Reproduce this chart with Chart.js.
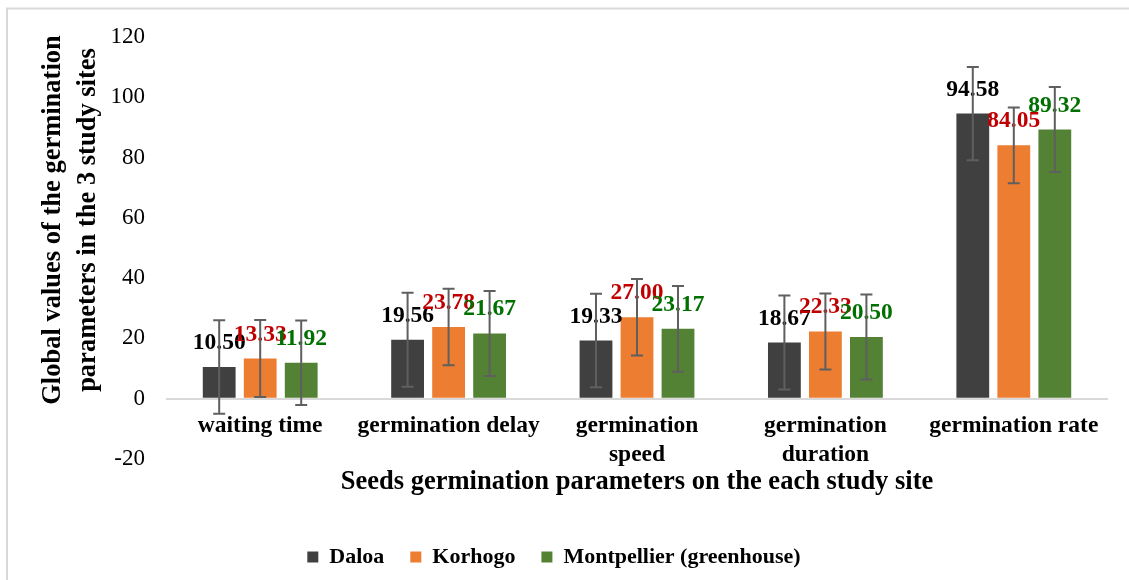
<!DOCTYPE html>
<html lang="en">
<head>
    <meta charset="UTF-8">
    <title>Seeds germination parameters</title>
    <style>
        body { margin: 0; background: #fff; }
        canvas { display: block; }
    </style>
</head>
<body>
    <canvas id="chart" width="1129" height="580"></canvas>

    <script src="https://cdn.jsdelivr.net/npm/chart.js"></script>
    <script>
    // categories and values
    const categories = ['waiting time', 'germination delay', ['germination', 'speed'], ['germination', 'duration'], 'germination rate'];
    const siteNames = ['Daloa', 'Korhogo', 'Montpellier (greenhouse)'];
    const daloa = [10.50, 19.56, 19.33, 18.67, 94.58];
    const korhogo = [13.33, 23.78, 27.00, 22.33, 84.05];
    const montpellier = [11.92, 21.67, 23.17, 20.50, 89.32];
    // error bar half-lengths (estimated)
    const daloaErr = [15.5, 15.6, 15.5, 15.6, 15.5];
    const korhogoErr = [12.8, 12.7, 12.7, 12.6, 12.6];
    const montpellierErr = [14.0, 14.1, 14.2, 14.1, 14.1];
    const yMin = -20, yMax = 120, yStep = 20;

    const barColors = ['#404040', '#ed7d31', '#548235'];
    const labelColors = ['#000000', '#c00000', '#007000'];
    const errors = [daloaErr, korhogoErr, montpellierErr];
    const serif = '"Liberation Serif", "Times New Roman", serif';

    Chart.defaults.font.family = serif;
    Chart.defaults.color = '#000';

    // white background and the light frame line at top / left
    const frame = {
        id: 'frame',
        beforeDraw(chart) {
            const ctx = chart.ctx;
            ctx.save();
            ctx.fillStyle = '#fff';
            ctx.fillRect(0, 0, chart.width, chart.height);
            ctx.strokeStyle = '#d9d9d9';
            ctx.lineWidth = 2;
            ctx.beginPath();
            ctx.moveTo(7, chart.height);
            ctx.lineTo(7, 8.5);
            ctx.lineTo(chart.width, 8.5);
            ctx.stroke();
            ctx.restore();
        }
    };

    // value labels above bars, then error bars on top
    const labelsAndErrors = {
        id: 'labelsAndErrors',
        afterDatasetsDraw(chart) {
            const ctx = chart.ctx;
            const yScale = chart.scales.y;
            ctx.save();
            ctx.font = 'bold 23.5px ' + serif;
            ctx.textAlign = 'center';
            ctx.textBaseline = 'middle';
            chart.data.datasets.forEach((ds, i) => {
                chart.getDatasetMeta(i).data.forEach((bar, j) => {
                    ctx.fillStyle = labelColors[i];
                    ctx.fillText(ds.data[j].toFixed(2), bar.x, bar.y - 24);
                });
            });
            ctx.strokeStyle = '#5f5f5f';
            ctx.lineWidth = 2;
            chart.data.datasets.forEach((ds, i) => {
                chart.getDatasetMeta(i).data.forEach((bar, j) => {
                    const top = yScale.getPixelForValue(ds.data[j] + errors[i][j]);
                    const bot = yScale.getPixelForValue(ds.data[j] - errors[i][j]);
                    ctx.beginPath();
                    ctx.moveTo(bar.x, top);
                    ctx.lineTo(bar.x, bot);
                    ctx.moveTo(bar.x - 6, top);
                    ctx.lineTo(bar.x + 6, top);
                    ctx.moveTo(bar.x - 6, bot);
                    ctx.lineTo(bar.x + 6, bot);
                    ctx.stroke();
                });
            });
            ctx.restore();
        }
    };

    // two-line rotated y axis title
    const yTitle = {
        id: 'yTitle',
        afterDraw(chart) {
            const ctx = chart.ctx;
            ctx.save();
            ctx.font = 'bold 26.5px ' + serif;
            ctx.fillStyle = '#000';
            ctx.textAlign = 'center';
            ctx.textBaseline = 'alphabetic';
            [['Global values of the germination', 60], ['parameters in the 3 study sites', 95]].forEach(([txt, x]) => {
                ctx.save();
                ctx.translate(x, 220);
                ctx.rotate(-Math.PI / 2);
                ctx.fillText(txt, 0, 0);
                ctx.restore();
            });
            ctx.restore();
        }
    };

    const datasets = [daloa, korhogo, montpellier].map((values, i) => ({
        label: siteNames[i],
        data: values,
        backgroundColor: barColors[i],
        borderWidth: 0,
        categoryPercentage: 0.653,
        barPercentage: 0.8
    }));

    new Chart(document.getElementById('chart'), {
        type: 'bar',
        data: { labels: categories, datasets: datasets },
        options: {
            responsive: false,
            animation: false,
            devicePixelRatio: 1,
            layout: { padding: { top: 37, right: 21, left: 0, bottom: 2 } },
            plugins: {
                tooltip: { enabled: false },
                legend: {
                    position: 'bottom',
                    labels: {
                        font: { size: 22, weight: 'bold' },
                        color: '#000',
                        boxWidth: 11,
                        boxHeight: 11,
                        padding: 26
                    }
                }
            },
            scales: {
                x: {
                    grid: { display: false, drawTicks: false },
                    border: { display: false },
                    ticks: {
                        font: { size: 23.5, weight: 'bold' },
                        color: '#000',
                        mirror: true,
                        padding: 18.5,
                        maxRotation: 0,
                        autoSkip: false
                    },
                    title: {
                        display: true,
                        text: 'Seeds germination parameters on the each study site',
                        font: { size: 26.5, weight: 'bold' },
                        color: '#000',
                        padding: { top: 0, bottom: 22 }
                    },
                    afterFit(scale) { scale.height = 61; }
                },
                y: {
                    min: yMin,
                    max: yMax,
                    border: { display: false },
                    grid: {
                        drawTicks: false,
                        lineWidth: 2,
                        color: c => c.tick && c.tick.value === 0 ? '#d9d9d9' : 'rgba(0,0,0,0)'
                    },
                    ticks: {
                        stepSize: yStep,
                        font: { size: 23 },
                        color: '#000',
                        padding: 21
                    },
                    afterFit(scale) { scale.width = 166; }
                }
            }
        },
        plugins: [frame, labelsAndErrors, yTitle]
    });
    </script>
</body>
</html>
